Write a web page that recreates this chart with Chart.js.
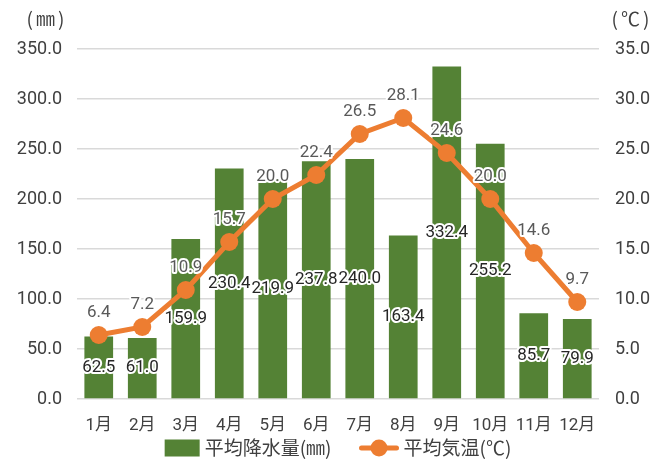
<!DOCTYPE html>
<html>
<head>
<meta charset="utf-8">
<script src="https://cdn.jsdelivr.net/npm/chart.js@4"></script>
<style>
html,body{margin:0;padding:0;background:#fff;}
#wrap{width:661px;height:459px;}
</style>
</head>
<body>
<div id="wrap"><canvas id="c" width="661" height="459"></canvas></div>
<script>
const months = ['1月','2月','3月','4月','5月','6月','7月','8月','9月','10月','11月','12月'];
const rainfall = [62.5, 61.0, 159.9, 230.4, 219.9, 237.8, 240.0, 163.4, 332.4, 255.2, 85.7, 79.9];
const temperature = [6.4, 7.2, 10.9, 15.7, 20.0, 22.4, 26.5, 28.1, 24.6, 20.0, 14.6, 9.7];
const rainLabel = '平均降水量(㎜)';
const tempLabel = '平均気温(℃)';
const leftUnit = '(㎜)';
const rightUnit = '(℃)';

const GREEN = '#548235';
const ORANGE = '#ED7D31';
const FONT = "Roboto, 'Noto Sans CJK JP', sans-serif";
const CJK = "'Noto Sans CJK JP', sans-serif";

const labelPlugin = {
  id: 'valueLabels',
  afterDatasetsDraw(chart){
    const ctx = chart.ctx;
    ctx.save();
    ctx.font = '17px ' + FONT;
    ctx.textAlign = 'center';
    ctx.textBaseline = 'middle';
    ctx.lineJoin = 'round';
    const m0 = chart.getDatasetMeta(0);
    m0.data.forEach((bar, i) => {
      const y = (bar.y + bar.base) / 2;
      const t = rainfall[i].toFixed(1);
      ctx.lineWidth = 4; ctx.strokeStyle = '#fff'; ctx.strokeText(t, bar.x, y);
      ctx.fillStyle = '#262626'; ctx.fillText(t, bar.x, y);
    });
    const m1 = chart.getDatasetMeta(1);
    m1.data.forEach((pt, i) => {
      const y = pt.y - 22;
      const t = temperature[i].toFixed(1);
      ctx.lineWidth = 4; ctx.strokeStyle = '#fff'; ctx.strokeText(t, pt.x, y);
      ctx.fillStyle = '#595959'; ctx.fillText(t, pt.x, y);
    });
    ctx.restore();
  },
  afterDraw(chart){
    const ctx = chart.ctx;
    const a = chart.chartArea;
    ctx.save();
    // unit labels
    ctx.font = '19px ' + CJK;
    try { ctx.letterSpacing = '3px'; } catch (e) {}
    ctx.fillStyle = '#404040';
    ctx.textBaseline = 'middle';
    ctx.textAlign = 'center';
    ctx.fillText(leftUnit, 47, a.top - 30);
    ctx.fillText(rightUnit, 632, a.top - 30);
    try { ctx.letterSpacing = '0px'; } catch (e) {}
    // legend
    ctx.font = '19px ' + CJK;
    ctx.textAlign = 'left';
    const w1 = ctx.measureText(rainLabel).width;
    const w2 = ctx.measureText(tempLabel).width;
    const boxW = 35, gap1 = 5, between = 28, lineW = 39, gap2 = 5;
    const total = boxW + gap1 + w1 + between + lineW + gap2 + w2;
    const cy = a.bottom + 49;
    let x = (a.left + a.right) / 2 - total / 2;
    ctx.fillStyle = GREEN;
    ctx.fillRect(x, cy - 8.5, boxW, 17);
    x += boxW + gap1;
    ctx.fillStyle = '#404040';
    ctx.fillText(rainLabel, x, cy);
    x += w1 + between;
    ctx.strokeStyle = ORANGE; ctx.lineWidth = 5; ctx.lineCap = 'round';
    ctx.beginPath(); ctx.moveTo(x + 2, cy); ctx.lineTo(x + lineW - 2, cy); ctx.stroke();
    ctx.fillStyle = ORANGE;
    ctx.beginPath(); ctx.arc(x + lineW / 2, cy, 8.5, 0, Math.PI * 2); ctx.fill();
    x += lineW + gap2;
    ctx.fillStyle = '#404040';
    ctx.fillText(tempLabel, x, cy);
    ctx.restore();
  }
};

new Chart(document.getElementById('c'), {
  data: {
    labels: months,
    datasets: [
      {
        type: 'bar', label: rainLabel, data: rainfall, yAxisID: 'y',
        backgroundColor: GREEN, barPercentage: 0.66, categoryPercentage: 1.0, order: 2
      },
      {
        type: 'line', label: tempLabel, data: temperature, yAxisID: 'y1',
        borderColor: ORANGE, backgroundColor: ORANGE, borderWidth: 5,
        pointRadius: 9, pointHoverRadius: 9, pointBackgroundColor: ORANGE, pointBorderWidth: 0,
        tension: 0, order: 1
      }
    ]
  },
  options: {
    responsive: false,
    animation: false,
    events: [],
    layout: { padding: { top: 49, left: 0, right: 0, bottom: 0 } },
    plugins: {
      tooltip: { enabled: false },
      legend: { display: false }
    },
    scales: {
      x: {
        grid: { display: false },
        border: { display: false },
        ticks: { color: '#404040', font: { size: 17, family: FONT }, padding: 9, maxRotation: 0, autoSkip: false },
        afterFit(s){ s.height = 60; }
      },
      y: {
        position: 'left', min: 0, max: 350,
        grid: { color: '#d9d9d9', lineWidth: 1.5, drawTicks: false },
        border: { display: false },
        ticks: { stepSize: 50, color: '#404040', font: { size: 18, family: FONT }, padding: 15,
          callback: v => v.toFixed(1) },
        afterFit(s){ s.width = 77; }
      },
      y1: {
        position: 'right', min: 0, max: 35,
        grid: { display: false, drawTicks: false },
        border: { display: false },
        ticks: { stepSize: 5, color: '#404040', font: { size: 18, family: FONT }, padding: 16,
          callback: v => v.toFixed(1) },
        afterFit(s){ s.width = 62; }
      }
    }
  },
  plugins: [labelPlugin]
});
</script>
</body>
</html>
